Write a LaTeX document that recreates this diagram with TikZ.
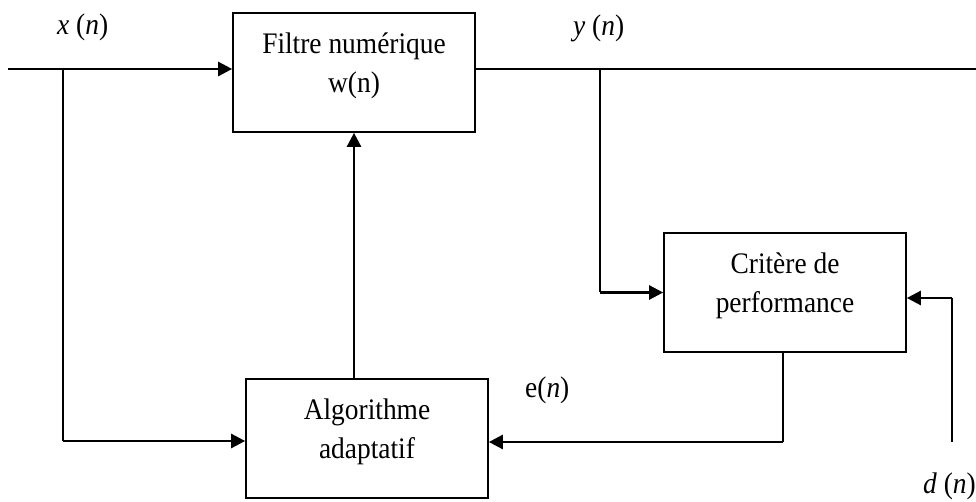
\documentclass[tikz,border=0pt]{standalone}
\usepackage{fontspec}
\setmainfont{Liberation Serif}[FakeStretch=0.92]
\usetikzlibrary{arrows.meta}
\newcommand\upS{\rule{0pt}{20pt}}
\newcommand\dnS{\rule[-20pt]{0pt}{20pt}}
\begin{document}
\begin{tikzpicture}[x=1pt,y=-1pt,
  blk/.style={draw, line width=1.7pt, minimum width=242pt, minimum height=119pt,
    inner sep=0pt, align=center, font=\fontsize{29.8}{39}\selectfont},
  lbl/.style={inner sep=0pt, anchor=base west, font=\fontsize{29.8}{33}\selectfont},
  thickl/.style={line width=2.6pt},
  thinl/.style={line width=1.2pt},
  medl/.style={line width=1.6pt},
  arr/.style={-{Triangle[length=14pt,width=14pt]}}]
\useasboundingbox (0,0) rectangle (976,502);

\node[blk] (filt) at (354,72.5) {\upS Filtre numérique\\w(n)\dnS};
\node[blk] (algo) at (367,438.5) {\upS Algorithme\\adaptatif\dnS};
\node[blk] (crit) at (785,292.5) {\upS Critère de\\performance\dnS};

\coordinate (in) at (8,69);
\coordinate (bx) at (63,69);
\coordinate (bxd) at (63,441);
\coordinate (out) at (976,69);
\coordinate (by) at (600,69);
\coordinate (ec) at (783,442);
\coordinate (dn) at (952,442);
\coordinate (dt) at (952,298);

% input
\draw[thickl,arr] (in) -- (in -| filt.west);
\draw[thinl] (bx) -- (bxd);
\draw[thickl,arr] (bxd) -- (bxd -| algo.west);
% adaptation
\draw[thickl,arr] (algo.north -| filt.south) -- (filt.south);
% output
\draw[medl] (in -| filt.east) -- (out);
\draw[medl] (by) -- (by |- crit.west);
\draw[thickl,arr] (by |- crit.west) -- (crit.west);
% error
\draw[thinl] (crit.south -| ec) -- (ec);
\draw[thickl,arr] (ec) -- (ec -| algo.east);
% desired
\draw[medl] (dn) -- (dt);
\draw[thickl,arr] (dt) -- (dt -| crit.east);

% labels
\node[lbl] (lx) at (57,35) {\textit{x} (\textit{n})};
\node[lbl] (ly) at (573,36) {\textit{y} (\textit{n})};
\node[lbl] (le) at (525,397) {e(\textit{n})};
\node[lbl] (ld) at (923,493) {\textit{d} (\textit{n})};
\end{tikzpicture}
\end{document}
